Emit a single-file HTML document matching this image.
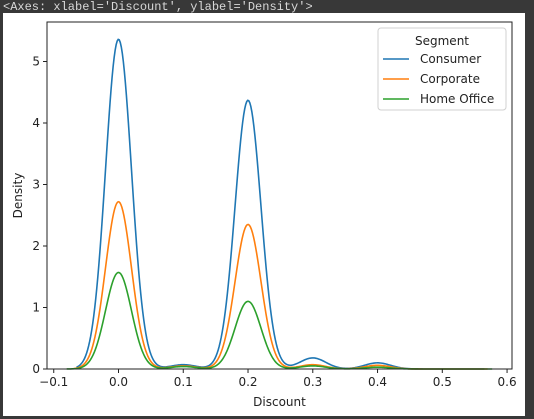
<!DOCTYPE html>
<html><head><meta charset="utf-8"><style>
html,body{margin:0;padding:0;background:#383838;width:534px;height:419px;overflow:hidden}
#out{position:absolute;left:3px;top:0;font:12px "Liberation Mono",monospace;color:#d8d8d8}
#panel{position:absolute;left:3px;top:13px;width:522px;height:403px;background:#fff}
svg{position:absolute;left:0;top:0}
text{font-family:"DejaVu Sans","Liberation Sans",sans-serif;fill:#222}
</style></head><body>
<div id="out">&lt;Axes: xlabel='Discount', ylabel='Density'&gt;</div>
<div id="panel"></div>
<svg id="chart" width="534" height="419"></svg>
<script>
const xTicks=[-0.1,0,0.1,0.2,0.3,0.4,0.5,0.6];
const xTickLabels=["−0.1","0.0","0.1","0.2","0.3","0.4","0.5","0.6"];
const yTicks=[0,1,2,3,4,5];
const yTickLabels=["0","1","2","3","4","5"];
const segments=["Consumer","Corporate","Home Office"];
const colors=["#1f77b4","#ff7f0e","#2ca02c"];
const peakCenters=[0,0.1,0.2,0.3,0.4];
const consumerPeaks=[5.36,0.07,4.37,0.18,0.1];
const corporatePeaks=[2.72,0.05,2.35,0.07,0.06];
const homePeaks=[1.57,0.04,1.1,0.05,0.03];
const seriesStart=[-0.065,-0.07,-0.08];
const seriesEnd=[0.565,0.57,0.577];
const bandwidth=0.02;

const NS="http://www.w3.org/2000/svg";
const svg=document.getElementById('chart');
const L=47,R=512,T=22,B=369;
function xs(v){return 118.5+v*647.6;}
function ys(v){return B-v*61.5;}
function mk(tag,attrs,parent){const e=document.createElementNS(NS,tag);for(const k in attrs)e.setAttribute(k,attrs[k]);(parent||svg).appendChild(e);return e;}

const series=[consumerPeaks,corporatePeaks,homePeaks];
series.forEach((peaks,i)=>{
  let d="";
  for(let k=0;k<=400;k++){
    const x=seriesStart[i]+(seriesEnd[i]-seriesStart[i])*k/400;
    let y=0;
    peaks.forEach((h,j)=>{const z=(x-peakCenters[j])/bandwidth;y+=h*Math.exp(-0.5*z*z);});
    d+=(k?"L":"M")+xs(x).toFixed(2)+","+ys(y).toFixed(2);
  }
  const p=mk('path',{d:d,fill:'none',stroke:colors[i],'stroke-width':1.6});
  
  
});

const frame=mk('rect',{x:L,y:T,width:R-L,height:B-T,fill:'none',stroke:'#222','stroke-width':1});



xTicks.forEach((v,i)=>{
  const x=xs(v);
  mk('line',{x1:x,x2:x,y1:B,y2:B+4,stroke:'#222'});
  const t=mk('text',{x:x,y:B+17,'text-anchor':'middle','font-size':12});
  t.textContent=xTickLabels[i];
  
  
});
yTicks.forEach((v,i)=>{
  const y=ys(v);
  mk('line',{x1:L-4,x2:L,y1:y,y2:y,stroke:'#222'});
  const t=mk('text',{x:L-7,y:y+4,'text-anchor':'end','font-size':12});
  t.textContent=yTickLabels[i];
  
  
});
const xl=mk('text',{x:(L+R)/2,y:406,'text-anchor':'middle','font-size':12});
xl.textContent='Discount';


const yl=mk('text',{x:0,y:0,'text-anchor':'middle','font-size':12,transform:'translate(22,'+((T+B)/2)+') rotate(-90)'});
yl.textContent='Density';



const lg=mk('g',{});


mk('rect',{x:378,y:28,width:128,height:82,rx:3,fill:'#fff','fill-opacity':0.8,stroke:'#d0d0d0'},lg);
const lt=mk('text',{x:442,y:45,'text-anchor':'middle','font-size':12},lg);
lt.textContent='Segment';


segments.forEach((s,i)=>{
  const y=59+i*20;
  mk('line',{x1:383,x2:409,y1:y,y2:y,stroke:colors[i],'stroke-width':1.6},lg);
  const t=mk('text',{x:420,y:y+4,'font-size':12},lg);
  t.textContent=s;
  
  
});
</script>
</body></html>
